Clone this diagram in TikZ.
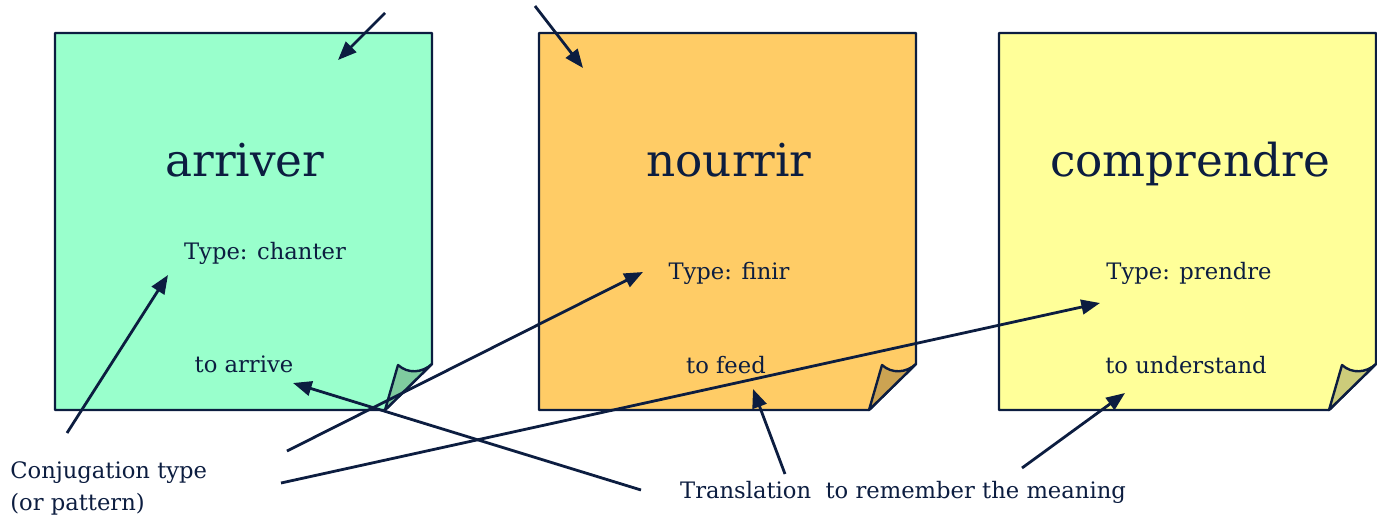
\documentclass[tikz,border=0pt]{standalone}
\usepackage{fontspec}
\setmainfont{DejaVu Serif}
\usetikzlibrary{arrows.meta,calc}
\definecolor{ink}{HTML}{0C1D40}
\definecolor{notegreen}{HTML}{99FFCC}
\definecolor{foldgreen}{HTML}{7FCC9F}
\definecolor{noteorange}{HTML}{FFCC66}
\definecolor{foldorange}{HTML}{CCA352}
\definecolor{noteyellow}{HTML}{FFFF99}
\definecolor{foldyellow}{HTML}{CCCC7A}
\tikzset{
  verb/.style={text=ink,font=\fontsize{34}{40}\selectfont,inner sep=0pt,anchor=base},
  small/.style={text=ink,font=\fontsize{17}{24}\selectfont,inner sep=0pt},
  arr/.style={draw=ink,line width=2.1pt,-{Triangle[length=14pt,width=11pt]}},
}
\begin{document}
\begin{tikzpicture}[x=0.75pt,y=-0.75pt] % post-it
\useasboundingbox (0,0) rectangle (1377,519);

\foreach \x/\nn/\fc/\dc in {55/n1/notegreen/foldgreen,539/n2/noteorange/foldorange,999/n3/noteyellow/foldyellow}{
  \filldraw[fill=\fc,draw=ink,line width=1.8pt,line join=round] (\x,33) -- ++(377,0) -- ++(0,331) -- (\x+330,410) -- (\x,410) -- cycle;
  \filldraw[fill=\dc,draw=ink,line width=1.8pt,line join=round] (\x+330,410) -- (\x+343,365) .. controls (\x+353,374) and (\x+367,373) .. (\x+377,364) -- cycle;
  \coordinate (\nn) at (\x+188.5,221.5);
}

\node[verb] (w1) at (245,176) {arriver};
\node[verb] (w2) at (729,176) {nourrir};
\node[verb] (w3) at (1190,176) {comprendre};

\node[small,anchor=base] (t1) at (265,259) {Type: chanter};
\node[small,anchor=base] (t2) at (729,279) {Type: finir};
\node[small,anchor=base] (t3) at (1189,279) {Type: prendre};

\node[small,anchor=base] (m1) at (244,372) {to arrive};
\node[small,anchor=base] (m2) at (726,373) {to feed};
\node[small,anchor=base] (m3) at (1186,373) {to understand};

\node[small,anchor=west,align=left] (conj) at (10,488) {Conjugation type\\(or pattern)};
\node[small,anchor=base] (trans) at (903,498) {Translation\ \ to remember the meaning};

\coordinate (top1) at (385,13);
\coordinate (top2) at (535,6);
\coordinate (c1) at (67,433);
\coordinate (c2) at (287,451);
\coordinate (c3) at (281,483);
\coordinate (r1) at (641,490);
\coordinate (r2) at (785,474);
\coordinate (r3) at (1022,468);

\draw[arr] (top1) -- ($(n1)+(94.5,-161.5)$);
\draw[arr] (top2) -- ($(n2)+(-144.5,-153.5)$);
\draw[arr] (c1) -- ($(t1.base)+(-97,16)$);
\draw[arr] (c2) -- ($(t2.base)+(-86,-7)$);
\draw[arr] (c3) -- ($(t3.base)+(-89,24)$);
\draw[arr] (r1) -- ($(m1.base)+(49,11)$);
\draw[arr] (r2) -- ($(m2.base)+(27,16)$);
\draw[arr] (r3) -- ($(m3.base)+(-61,20)$);
\end{tikzpicture}
\end{document}
